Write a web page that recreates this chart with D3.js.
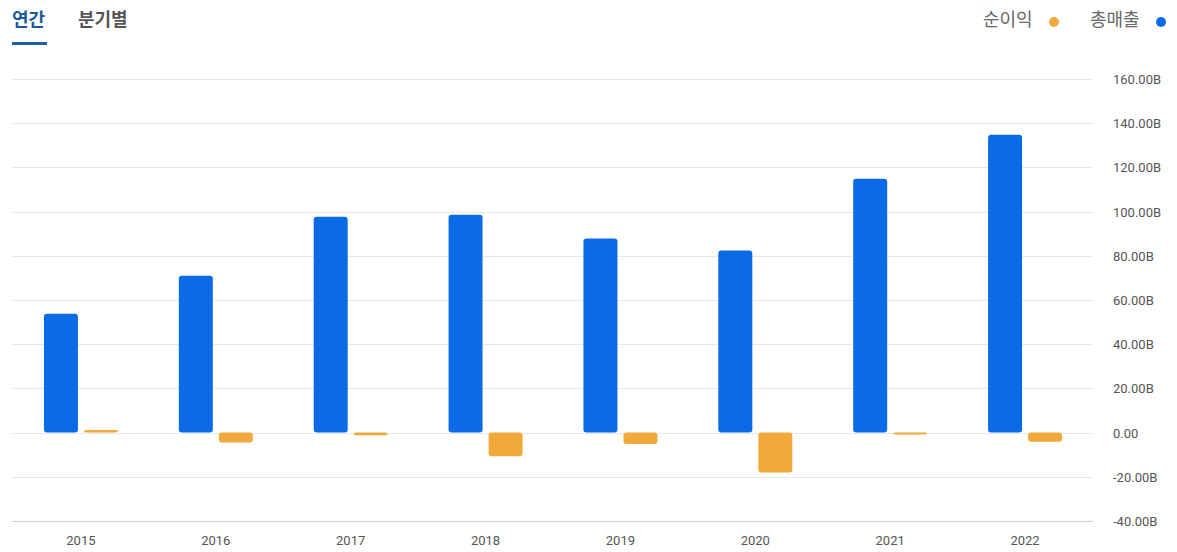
<!DOCTYPE html>
<html>
<head>
<meta charset="utf-8">
<script src="https://cdn.jsdelivr.net/npm/d3@7"></script>
<style>
  body { margin: 0; background: #fff; font-family: "Noto Sans CJK KR", Roboto, sans-serif; }
</style>
</head>
<body>
<svg id="chart" width="1177" height="552"></svg>
<script>
const years = ["2015", "2016", "2017", "2018", "2019", "2020", "2021", "2022"];
const revenue = [53.8, 71.0, 97.7, 98.6, 87.8, 82.4, 114.9, 134.8];   // 총매출
const netIncome = [1.2, -4.5, -1.2, -10.7, -5.2, -18.0, -0.7, -4.1];  // 순이익
const yTicks = [-40, -20, 0, 20, 40, 60, 80, 100, 120, 140, 160];

const svg = d3.select("#chart");

const x = d3.scaleBand().domain(years).range([13.5, 1092.5]);
const y = d3.scaleLinear().domain([-40, 160]).range([521, 79]);

// grid
svg.append("g").selectAll("line")
   .data(yTicks)
   .join("line")
   .attr("x1", 12).attr("x2", 1093)
   .attr("y1", d => Math.round(y(d)) + 0.5)
   .attr("y2", d => Math.round(y(d)) + 0.5)
   .attr("stroke", d => d === -40 ? "#cfcfcf" : "#e8e8e8")
   .attr("stroke-width", 1);

// y labels
svg.append("g").selectAll("text")
   .data(yTicks)
   .join("text")
   .attr("x", 1113)
   .attr("y", d => y(d) + 5)
   .attr("font-size", 13)
   .attr("font-family", "Roboto, sans-serif")
   .attr("fill", "#555")
   .text(d => d === 0 ? "0.00" : d.toFixed(2) + "B");

// x labels
svg.append("g").selectAll("text")
   .data(years)
   .join("text")
   .attr("x", d => x(d) + x.bandwidth() / 2)
   .attr("y", 545)
   .attr("text-anchor", "middle")
   .attr("font-size", 13)
   .attr("font-family", "Roboto, sans-serif")
   .attr("fill", "#555")
   .text(d => d);

const barW = 34;

// 총매출 bars
svg.append("g").selectAll("rect")
   .data(years)
   .join("rect")
   .attr("x", (d, i) => x(d) + x.bandwidth() / 2 - 37)
   .attr("y", (d, i) => y(Math.max(0, revenue[i])))
   .attr("width", barW)
   .attr("height", (d, i) => Math.abs(y(revenue[i]) - y(0)))
   .attr("rx", 3)
   .attr("fill", "#0b6be6");

// 순이익 bars
svg.append("g").selectAll("rect")
   .data(years)
   .join("rect")
   .attr("x", (d, i) => x(d) + x.bandwidth() / 2 + 3)
   .attr("y", (d, i) => y(Math.max(0, netIncome[i])))
   .attr("width", barW)
   .attr("height", (d, i) => Math.max(2, Math.abs(y(netIncome[i]) - y(0))))
   .attr("rx", 3)
   .attr("fill", "#f2a93b");

// tabs
svg.append("text").attr("x", 12).attr("y", 26)
   .attr("font-size", 18).attr("font-weight", "bold").attr("fill", "#1d5a9c")
   .text("연간");
svg.append("rect").attr("x", 12).attr("y", 42).attr("width", 35).attr("height", 3)
   .attr("fill", "#1d5fa6");
svg.append("text").attr("x", 78).attr("y", 26)
   .attr("font-size", 18).attr("font-weight", "bold").attr("fill", "#555")
   .text("분기별");

// legend
const legend = [
   { name: "순이익", color: "#f2a93b", x: 983, dot: 1054 },
   { name: "총매출", color: "#0b6be6", x: 1090, dot: 1161 }
];
legend.forEach(l => {
   svg.append("text").attr("x", l.x).attr("y", 26)
      .attr("font-size", 18).attr("fill", "#666").text(l.name);
   svg.append("circle").attr("cx", l.dot).attr("cy", 22).attr("r", 5)
      .attr("fill", l.color);
});
</script>
</body>
</html>
